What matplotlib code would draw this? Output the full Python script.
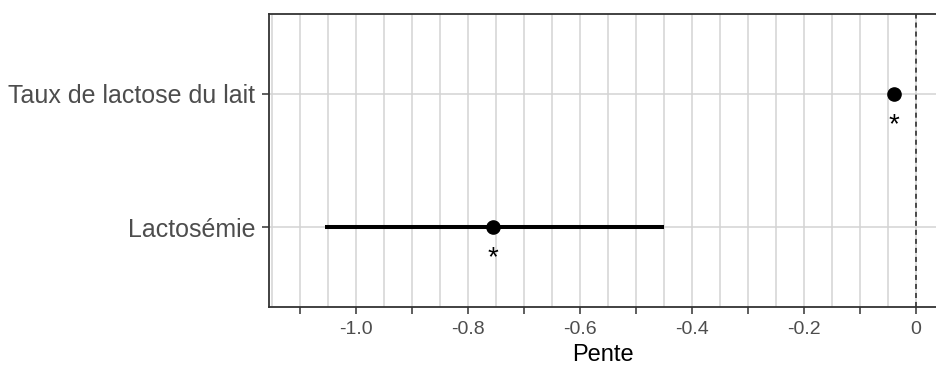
import numpy as np
import matplotlib.pyplot as plt
from matplotlib.ticker import MultipleLocator

plt.rcParams['font.family'] = ['Liberation Sans', 'DejaVu Sans']

labels = ["Lactosémie", "Taux de lactose du lait"]
estimate = [-0.755, -0.040]
ci_low = [-1.055, -0.045]
ci_high = [-0.450, -0.036]
signif = ["*", "*"]

tick_vals = [-1.1, -1.0, -0.9, -0.8, -0.7, -0.6, -0.5, -0.4, -0.3, -0.2, -0.1, 0.0]
tick_text = ["", "-1.0", "", "-0.8", "", "-0.6", "", "-0.4", "", "-0.2", "", "0"]

fig = plt.figure(figsize=(9.37, 3.81), dpi=100)
# panel is cut off at the right edge of the picture
ax = fig.add_axes([269 / 937, 74 / 381, 668 / 937, 293.3 / 381])

y = np.arange(1, len(labels) + 1)

ax.set_xlim(-1.1547, 0.0375)
ax.set_ylim(0.4, len(labels) + 0.6)
ax.set_xticks(tick_vals)
ax.set_xticklabels(tick_text)
ax.xaxis.set_minor_locator(MultipleLocator(0.05))
ax.set_yticks(y)
ax.set_yticklabels(labels)

ax.grid(which='both', axis='x', color='#d3d3d3', linewidth=1.1)
ax.grid(which='major', axis='y', color='#d3d3d3', linewidth=1.1)
ax.set_axisbelow(True)

ax.axvline(0, color='#222222', linestyle=(0, (3.3, 2.6)), linewidth=1.1, zorder=2)

ax.hlines(y, ci_low, ci_high, color='black', linewidth=2.9, zorder=3)
ax.plot(estimate, y, 'o', color='black', markersize=9.5, zorder=4)
for xi, yi, s in zip(estimate, y, signif):
    ax.text(xi, yi - 0.29, s, ha='center', va='baseline', fontsize=20, color='black', zorder=5)

ax.tick_params(axis='both', which='major', colors='#333333', labelcolor='#4d4d4d',
               length=5, width=1.1)
ax.tick_params(axis='x', which='major', labelsize=14, pad=5)
ax.tick_params(axis='y', which='major', labelsize=18, pad=5)
ax.tick_params(axis='x', which='minor', length=0)
for side in ['left', 'bottom', 'top']:
    ax.spines[side].set_color('#333333')
    ax.spines[side].set_linewidth(1.3)
ax.spines['right'].set_visible(False)

ax.set_xlabel("Pente", fontsize=17, color='black')
ax.xaxis.set_label_coords(0.5, -0.1245)

fig.savefig("out.png", dpi=100)
